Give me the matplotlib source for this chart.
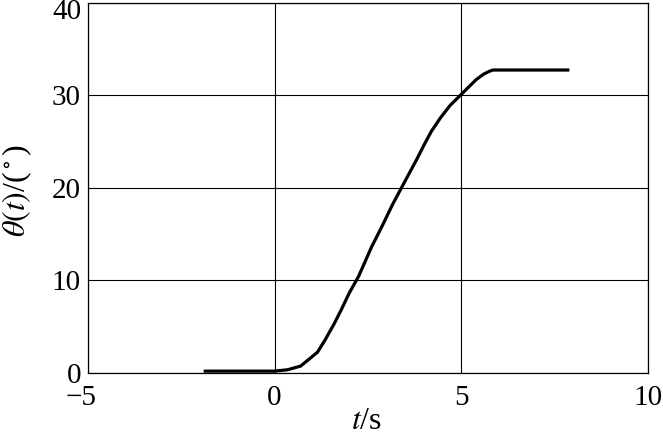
import numpy as np
import matplotlib
matplotlib.use("Agg")
import matplotlib.pyplot as plt
from matplotlib.transforms import ScaledTranslation

# ============================================================
# DADOS
# ============================================================

t = np.array([-1.9, 0.0, 0.35, 0.7, 1.15, 1.35, 1.6, 1.8, 2.0, 2.25, 2.6, 2.9,
              3.15, 3.4, 3.6, 3.8, 4.0, 4.2, 4.45, 4.7, 5.0, 5.2, 5.4, 5.6,
              5.75, 5.85, 7.9])

theta = np.array([0.15, 0.15, 0.3, 0.7, 2.2, 3.5, 5.3, 6.9, 8.6, 10.4, 13.6, 16.0,
                  18.1, 20.0, 21.5, 23.0, 24.6, 26.1, 27.6, 28.9, 30.1, 30.9, 31.7, 32.3,
                  32.6, 32.75, 32.75])

x_ticks = [-5, 0, 5, 10]
y_ticks = [0, 10, 20, 30, 40]
x_tick_labels = ["\u22125", "0", "5", "10"]

# ============================================================
# GRÁFICO
# ============================================================

plt.rcParams["font.family"] = ["Liberation Serif", "DejaVu Serif"]
plt.rcParams["mathtext.fontset"] = "stix"

fig = plt.figure(figsize=(6.63, 4.36), dpi=100)
ax = fig.add_axes([0.1327, 0.1456, 0.8443, 0.8474])

ax.plot(t, theta, color="black", linewidth=2.3, solid_capstyle="butt")

ax.set_xlim(-5, 10)
ax.set_ylim(0, 40)
ax.set_xticks(x_ticks)
ax.set_yticks(y_ticks)
ax.set_xticklabels(x_tick_labels)
ax.tick_params(length=0, labelsize=21)
ax.tick_params(axis="x", pad=9)
ax.tick_params(axis="y", pad=5)
ax.grid(True, color="black", linewidth=0.8)

for spine in ax.spines.values():
    spine.set_linewidth(0.9)

# "-5": o algarismo fica centrado na marca, o sinal sobra à esquerda
lbl = ax.get_xticklabels()[0]
lbl.set_transform(lbl.get_transform() + ScaledTranslation(-7 / 100, 0, fig.dpi_scale_trans))
# "40" um pouco abaixo para não cortar
lbl = ax.get_yticklabels()[-1]
lbl.set_transform(lbl.get_transform() + ScaledTranslation(0, -6 / 100, fig.dpi_scale_trans))

ax.set_xlabel(r"$t$/s", fontsize=23)
ax.set_ylabel(r"$\theta(t)$/($^\circ$)", fontsize=23)
ax.xaxis.label.set_va("center")
ax.yaxis.label.set_va("center")
ax.xaxis.set_label_coords(0.498, -0.132)
ax.yaxis.set_label_coords(-0.127, 0.491)

fig.savefig("out.png", dpi=100)
